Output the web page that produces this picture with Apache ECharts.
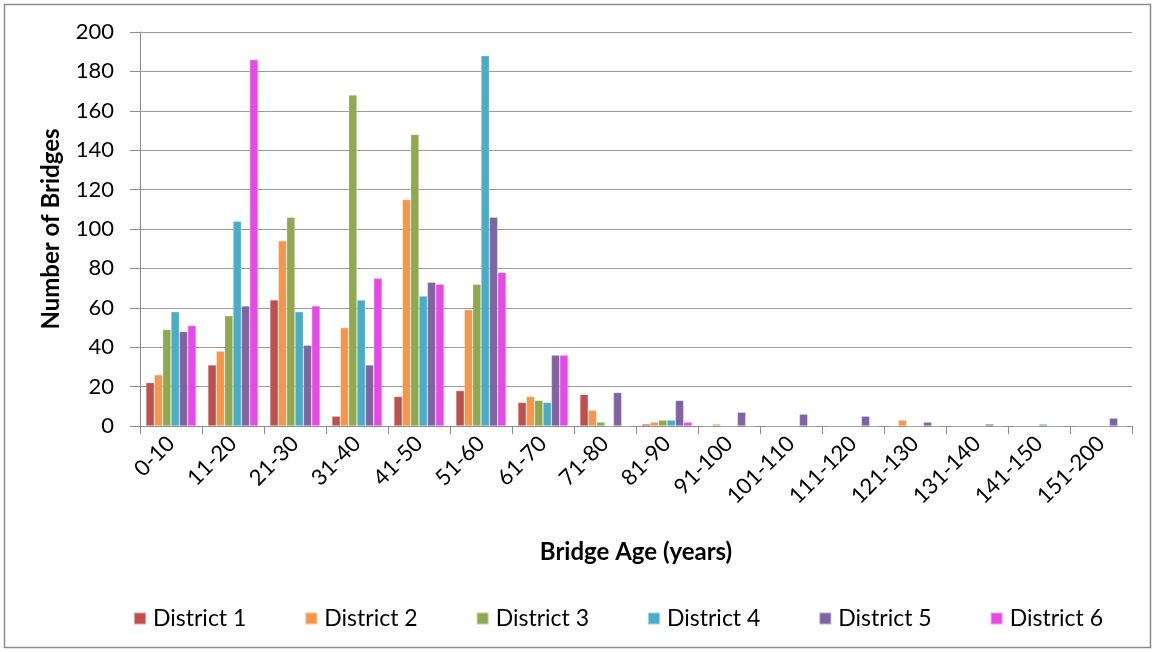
<!DOCTYPE html>
<html>
<head>
<meta charset="utf-8">
<script src="https://cdn.jsdelivr.net/npm/echarts@6/dist/echarts.min.js"></script>
<style>
  html, body { margin: 0; padding: 0; background: #fff; }
  #chart { width: 1155px; height: 652px; }
</style>
</head>
<body>
<div id="chart"></div>
<script>
// Bridge counts by age band for each district
const categories = ['0-10','11-20','21-30','31-40','41-50','51-60','61-70','71-80','81-90','91-100','101-110','111-120','121-130','131-140','141-150','151-200'];
const district1 = [22, 31, 64, 5, 15, 18, 12, 16, 1, 0, 0, 0, 0, 0, 0, 0];
const district2 = [26, 38, 94, 50, 115, 59, 15, 8, 2, 1, 0, 0, 3, 0, 0, 0];
const district3 = [49, 56, 106, 168, 148, 72, 13, 2, 3, 0, 0, 0, 0, 0, 0, 0];
const district4 = [58, 104, 58, 64, 66, 188, 12, 0, 3, 0, 0, 0, 0, 0, 1, 0];
const district5 = [48, 61, 41, 31, 73, 106, 36, 17, 13, 7, 6, 5, 2, 1, 0, 4];
const district6 = [51, 186, 61, 75, 72, 78, 36, 0, 2, 0, 0, 0, 0, 0, 0, 0];
const seriesNames = ['District 1','District 2','District 3','District 4','District 5','District 6'];
const seriesData = [district1, district2, district3, district4, district5, district6];
const colors = ['#C0504D','#F79646','#8EA94E','#4BACC6','#8064A2','#E64AE6'];

const font = 'Lato, "Open Sans", sans-serif';
const chart = echarts.init(document.getElementById('chart'), null, { renderer: 'canvas' });

chart.setOption({
  animation: false,
  color: colors,
  textStyle: { fontFamily: font },
  graphic: [{
    type: 'rect',
    shape: { x: 4.5, y: 4.5, width: 1146, height: 643 },
    style: { fill: null, stroke: '#8c8c8c', lineWidth: 1.5 },
    silent: true
  }],
  grid: { left: 140, right: 23, top: 32, bottom: 226 },
  legend: {
    data: seriesNames,
    bottom: 17,
    left: 128,
    itemWidth: 12,
    itemHeight: 12,
    itemGap: 58,
    icon: 'rect',
    textStyle: { fontSize: 23, color: '#000', fontFamily: font, padding: [0, 0, 0, 2] }
  },
  xAxis: {
    type: 'category',
    data: categories,
    name: 'Bridge Age (years)',
    nameLocation: 'middle',
    nameGap: 114,
    nameTextStyle: { fontSize: 24, fontWeight: 'bold', color: '#000', fontFamily: font },
    axisLine: { lineStyle: { color: '#8c8c8c', width: 1 } },
    axisTick: { show: true, alignWithLabel: false, length: 8, lineStyle: { color: '#8c8c8c' } },
    axisLabel: { rotate: 45, fontSize: 22, color: '#000', margin: 14, interval: 0, fontFamily: font }
  },
  yAxis: {
    type: 'value',
    min: 0,
    max: 200,
    interval: 20,
    name: 'Number of Bridges',
    nameLocation: 'middle',
    nameGap: 77,
    nameTextStyle: { fontSize: 24, fontWeight: 'bold', color: '#000', fontFamily: font },
    axisLine: { show: true, lineStyle: { color: '#8c8c8c', width: 1 } },
    axisTick: { show: true, length: 10, lineStyle: { color: '#8c8c8c' } },
    axisLabel: { fontSize: 22, color: '#000', margin: 26, fontFamily: font },
    splitLine: { lineStyle: { color: '#9a9a9a', width: 1 } }
  },
  series: seriesNames.map((name, i) => ({
    name: name,
    type: 'bar',
    data: seriesData[i],
    barGap: '0%',
    barCategoryGap: '19%',
    itemStyle: { color: colors[i], borderColor: 'rgba(255,255,255,0.45)', borderWidth: 0.6 }
  }))
});
</script>
</body>
</html>
